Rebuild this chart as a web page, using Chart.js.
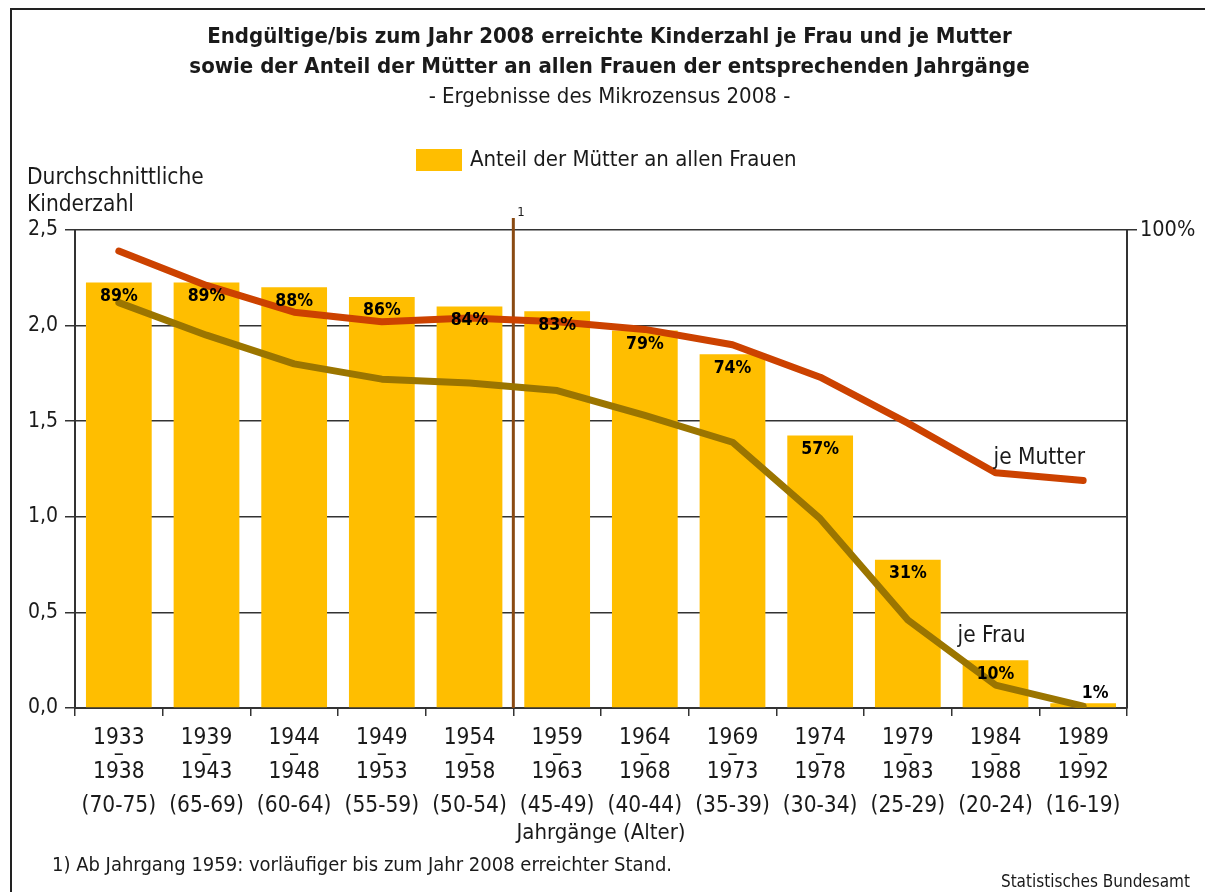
<!DOCTYPE html>
<html lang="de">
<head>
<meta charset="utf-8">
<title>Kinderzahl je Frau und je Mutter</title>
<script src="https://cdn.jsdelivr.net/npm/chart.js@4.4.1/dist/chart.umd.min.js"></script>
<style>
  html, body { margin: 0; padding: 0; background: #fff; }
  #wrap { width: 1205px; height: 892px; }
</style>
</head>
<body>
<div id="wrap"><canvas id="chart" width="1205" height="892"></canvas></div>
<script>
// Jahrgaenge (x axis), three label rows per category
const startYears = ['1933', '1939', '1944', '1949', '1954', '1959', '1964', '1969', '1974', '1979', '1984', '1989'];
const endYears = ['1938', '1943', '1948', '1953', '1958', '1963', '1968', '1973', '1978', '1983', '1988', '1992'];
const ages = ['(70-75)', '(65-69)', '(60-64)', '(55-59)', '(50-54)', '(45-49)', '(40-44)', '(35-39)', '(30-34)', '(25-29)', '(20-24)', '(16-19)'];

// Anteil der Muetter an allen Frauen (%), right axis
const anteilMuetter = [89, 89, 88, 86, 84, 83, 79, 74, 57, 31, 10, 1];

// Durchschnittliche Kinderzahl, left axis
const kinderJeMutter = [2.39, 2.21, 2.07, 2.02, 2.04, 2.02, 1.98, 1.90, 1.73, 1.49, 1.23, 1.19];
const kinderJeFrau = [2.12, 1.95, 1.80, 1.72, 1.70, 1.66, 1.53, 1.39, 0.99, 0.46, 0.12, 0.01];

const leftTicks = [0, 0.5, 1.0, 1.5, 2.0, 2.5];

const FONT = '"Liberation Sans Narrow", "DejaVu Sans Condensed", "Open Sans", sans-serif';
const INK = '#1a1a1a';
const AXIS = '#333333';

Chart.defaults.font.family = FONT;
Chart.defaults.color = INK;

const labels = startYears.map((s, i) => [s, '\u2013', endYears[i], '', ages[i]]);

// extra drawing: legend, axis captions, bar labels, footnote marker line
const extrasPlugin = {
    id: 'extras',
    afterDatasetDraw(chart, args) {
        // vertical footnote line sits above the bars but under the lines
        if (args.index !== 2) return;
        const ctx = chart.ctx;
        const x = chart.scales.x;
        const bx = (x.getPixelForValue(4) + x.getPixelForValue(5)) / 2;
        ctx.save();
        ctx.strokeStyle = '#8a4a12';
        ctx.lineWidth = 3;
        ctx.beginPath();
        ctx.moveTo(bx, chart.chartArea.top - 12);
        ctx.lineTo(bx, chart.chartArea.bottom);
        ctx.stroke();
        ctx.fillStyle = INK;
        ctx.font = '13px ' + FONT;
        ctx.textAlign = 'left';
        ctx.textBaseline = 'middle';
        ctx.fillText('1', bx + 4, chart.chartArea.top - 17);
        ctx.restore();
    },
    afterDatasetsDraw(chart) {
        const ctx = chart.ctx;
        const area = chart.chartArea;
        const x = chart.scales.x;
        const y = chart.scales.y;
        ctx.save();

        // percentage labels on the bars
        const bars = chart.getDatasetMeta(2).data;
        ctx.font = 'bold 17.5px ' + FONT;
        ctx.textAlign = 'center';
        ctx.textBaseline = 'middle';
        ctx.fillStyle = '#000';
        bars.forEach((bar, i) => {
            const h = bar.base - bar.y;
            const ty = h > 30 ? bar.y + 14 : bar.y - 10;
            const tx = h > 30 ? bar.x : bar.x + 12;
            ctx.fillText(anteilMuetter[i] + '%', tx, ty);
        });

        // line captions
        ctx.font = '22.5px ' + FONT;
        ctx.textAlign = 'left';
        ctx.fillStyle = INK;
        ctx.fillText('je Mutter', x.getPixelForValue(10) - 2, y.getPixelForValue(1.305));
        ctx.fillText('je Frau', x.getPixelForValue(10) - 38, y.getPixelForValue(0.375));

        // y axis caption
        ctx.font = '22.5px ' + FONT;
        ctx.fillText('Durchschnittliche', 27, 178);
        ctx.fillText('Kinderzahl', 27, 205);

        // legend
        ctx.fillStyle = '#ffbe00';
        ctx.fillRect(416, 149, 46, 22);
        ctx.fillStyle = INK;
        ctx.font = '22px ' + FONT;
        ctx.fillText('Anteil der M\u00fctter an allen Frauen', 470, 160);

        // x axis caption
        ctx.textAlign = 'center';
        ctx.fillText('Jahrg\u00e4nge (Alter)', (area.left + area.right) / 2, 833);

        // footnote and source
        ctx.textAlign = 'left';
        ctx.font = '20px ' + FONT;
        ctx.fillText('1) Ab Jahrgang 1959: vorl\u00e4ufiger bis zum Jahr 2008 erreichter Stand.', 52, 866);
        ctx.textAlign = 'right';
        ctx.font = '17px ' + FONT;
        ctx.fillText('Statistisches Bundesamt', 1190, 883);

        // frame
        ctx.strokeStyle = '#222';
        ctx.lineWidth = 2;
        ctx.beginPath();
        ctx.moveTo(11, 900);
        ctx.lineTo(11, 9);
        ctx.lineTo(1205, 9);
        ctx.stroke();
        ctx.restore();
    }
};

new Chart(document.getElementById('chart'), {
    data: {
        labels: labels,
        datasets: [
            {
                type: 'line',
                label: 'je Mutter',
                data: kinderJeMutter,
                yAxisID: 'y',
                borderColor: '#cc4200',
                borderWidth: 7,
                borderCapStyle: 'round',
                borderJoinStyle: 'round',
                pointRadius: 0,
                tension: 0,
                order: 1
            },
            {
                type: 'line',
                label: 'je Frau',
                data: kinderJeFrau,
                yAxisID: 'y',
                borderColor: '#9b7500',
                borderWidth: 7,
                borderCapStyle: 'round',
                borderJoinStyle: 'round',
                pointRadius: 0,
                tension: 0,
                order: 1
            },
            {
                type: 'bar',
                label: 'Anteil der M\u00fctter an allen Frauen',
                data: anteilMuetter,
                yAxisID: 'y1',
                backgroundColor: '#ffbe00',
                borderWidth: 0,
                categoryPercentage: 1,
                barPercentage: 0.75,
                order: 2
            }
        ]
    },
    options: {
        responsive: false,
        animation: false,
        events: [],
        layout: {
            padding: { left: 24, right: 10, top: 0, bottom: 0 }
        },
        plugins: {
            legend: { display: false },
            tooltip: { enabled: false },
            title: {
                display: true,
                text: [
                    'Endg\u00fcltige/bis zum Jahr 2008 erreichte Kinderzahl je Frau und je Mutter',
                    'sowie der Anteil der M\u00fctter an allen Frauen der entsprechenden Jahrg\u00e4nge'
                ],
                color: INK,
                font: { size: 22, weight: 'bold', lineHeight: '30px' },
                padding: { top: 22, bottom: 0 }
            },
            subtitle: {
                display: true,
                text: '- Ergebnisse des Mikrozensus 2008 -',
                color: INK,
                font: { size: 22, lineHeight: '30px' },
                padding: { top: 0, bottom: 118 }
            }
        },
        scales: {
            x: {
                offset: true,
                grid: {
                    offset: true,
                    drawOnChartArea: false,
                    tickLength: 8,
                    color: AXIS,
                    lineWidth: 1.5
                },
                border: { color: AXIS, width: 2 },
                ticks: {
                    autoSkip: false,
                    maxRotation: 0,
                    padding: 14,
                    color: INK,
                    font: { size: 22.5, lineHeight: '17px' }
                },
                afterFit(scale) { scale.height = 184; }
            },
            y: {
                position: 'left',
                min: 0,
                max: 2.5,
                afterBuildTicks(scale) {
                    scale.ticks = leftTicks.map(v => ({ value: v }));
                },
                ticks: {
                    padding: 7,
                    color: INK,
                    font: { size: 21 },
                    callback: v => v.toFixed(1).replace('.', ',')
                },
                grid: {
                    color: AXIS,
                    lineWidth: 1.5,
                    tickLength: 10
                },
                border: { color: AXIS, width: 2 },
                afterFit(scale) { scale.width = 51; }
            },
            y1: {
                position: 'right',
                min: 0,
                max: 100,
                afterBuildTicks(scale) {
                    scale.ticks = [{ value: 0 }, { value: 100 }];
                },
                ticks: {
                    padding: 3,
                    color: INK,
                    font: { size: 21.5 },
                    callback: v => (v === 100 ? '100%' : '')
                },
                grid: {
                    drawOnChartArea: false,
                    tickLength: 10,
                    lineWidth: 1.5,
                    color: c => (c.tick && c.tick.value === 100 ? AXIS : 'rgba(0,0,0,0)')
                },
                border: { color: AXIS, width: 2 },
                afterFit(scale) { scale.width = 68; }
            }
        }
    },
    plugins: [extrasPlugin]
});
</script>
</body>
</html>
